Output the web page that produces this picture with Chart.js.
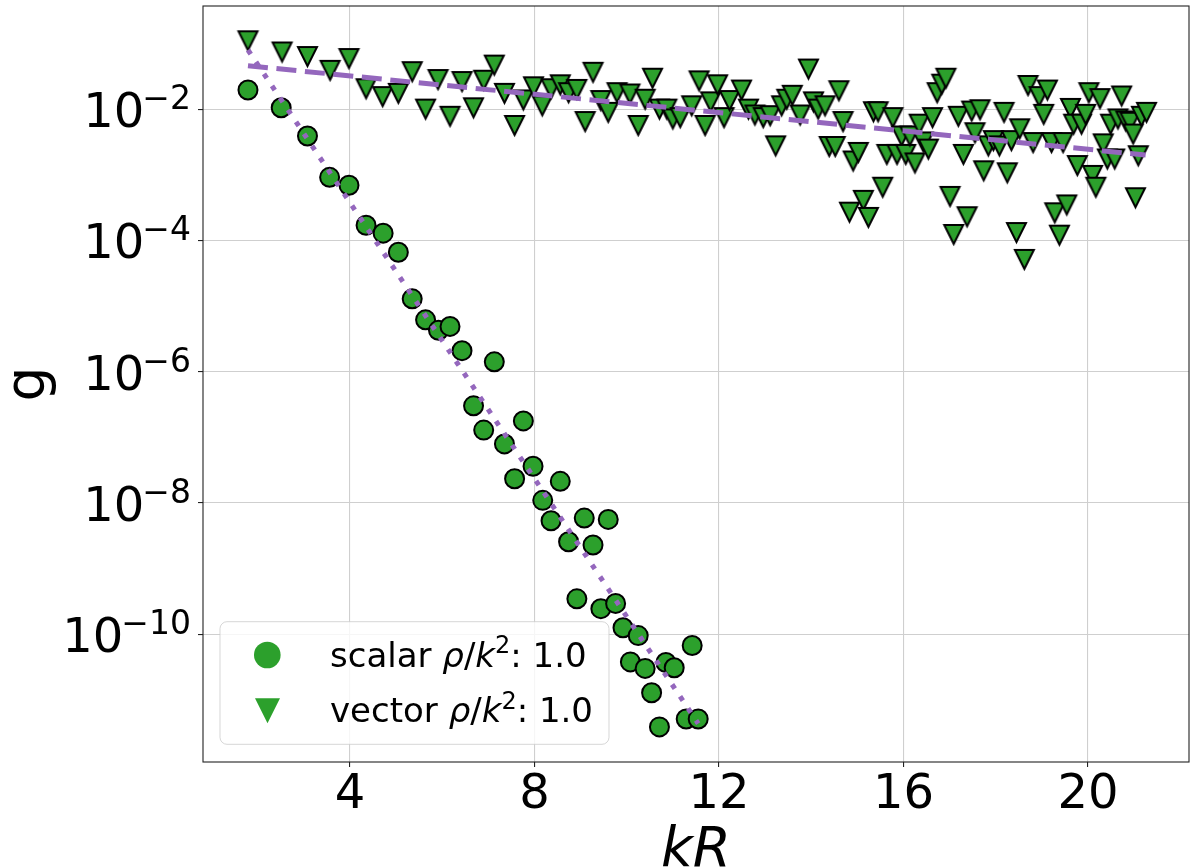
<!DOCTYPE html>
<html>
<head>
<meta charset="utf-8">
<script src="https://cdn.jsdelivr.net/npm/chart.js@4.4.1/dist/chart.umd.min.js"></script>
<style>
  html, body { margin: 0; padding: 0; background: #fff; }
  canvas { display: block; }
</style>
</head>
<body>
<canvas id="chart" width="1191" height="868"></canvas>
<script>
(() => {
  "use strict";

  // values; g values are kept as log10(g)
  const scalarKR = [1.79, 2.51, 3.08, 3.56, 3.98, 4.35, 4.72, 5.05, 5.35, 5.64, 5.92, 6.17, 6.43, 6.68,
    6.90, 7.13, 7.35, 7.57, 7.76, 7.97, 8.18, 8.36, 8.56, 8.74, 8.92, 9.08, 9.27, 9.44, 9.60, 9.76,
    9.92, 10.08, 10.25, 10.40, 10.54, 10.71, 10.85, 11.03, 11.29, 11.42, 11.55];
  const scalarLogG = [-1.71, -1.98, -2.41, -3.04, -3.16, -3.77, -3.89, -4.18, -4.89, -5.21, -5.37, -5.31, -5.68, -6.52,
    -6.89, -5.85, -7.10, -7.63, -6.75, -7.44, -7.96, -8.27, -7.67, -8.59, -9.46, -8.23, -8.64, -9.61, -8.25, -9.53,
    -9.90, -10.42, -10.02, -10.52, -10.89, -11.41, -10.43, -10.51, -11.29, -10.17, -11.29];

  const vectorKR = [1.79, 2.53, 3.08, 3.57, 3.98, 4.35, 4.71, 5.05, 5.35, 5.64, 5.91, 6.17, 6.43, 6.68,
    6.90, 7.13, 7.35, 7.57, 7.76, 7.98, 8.17, 8.36, 8.56, 8.74, 8.92, 9.10, 9.27,
    9.44, 9.60, 9.79, 10.07, 10.25, 10.40, 10.56, 10.71, 10.87, 11.00, 11.16, 11.41, 11.57, 11.70,
    11.82, 11.97, 12.11, 12.23, 12.49, 12.64, 12.78, 12.96, 13.11, 13.23, 13.36, 13.47, 13.59, 13.76,
    13.94, 14.05, 14.15, 14.30, 14.39, 14.52, 14.60, 14.69, 14.83, 14.91, 15.02, 15.13, 15.24, 15.35,
    15.45, 15.55, 15.64, 15.77, 15.86, 15.96, 16.05, 16.14, 16.25, 16.34, 16.43, 16.54, 16.63, 16.73,
    16.83, 16.92, 17.01, 17.09, 17.19, 17.30, 17.38, 17.48, 17.55, 17.66, 17.74, 17.84, 17.95, 18.08,
    18.18, 18.25, 18.34, 18.45, 18.52, 18.62, 18.70, 18.81, 18.94, 19.04, 19.12, 19.21, 19.28, 19.38,
    19.46, 19.54, 19.62, 19.69, 19.77, 19.86, 19.95, 20.02, 20.10, 20.17, 20.26, 20.33, 20.42, 20.49,
    20.58, 20.65, 20.73, 20.82, 20.91, 20.98, 21.03, 21.09, 21.16, 21.27];
  const vectorLogG = [-0.96, -1.13, -1.20, -1.41, -1.23, -1.69, -1.81, -1.76, -1.43, -2.00, -1.55, -2.11, -1.58, -1.98,
    -1.56, -1.33, -1.76, -2.25, -1.86, -1.66, -1.95, -1.69, -1.63, -1.75, -1.70, -2.19, -1.44,
    -1.87, -2.05, -1.75, -1.77, -2.25, -1.85, -1.53, -2.00, -2.00, -2.15, -2.13, -1.95, -1.57, -2.25,
    -1.89, -1.63, -2.13, -1.87, -1.71, -2.00, -2.09, -2.13, -2.10, -2.56, -1.95, -1.85, -1.79, -2.09,
    -1.39, -1.89, -2.00, -1.95, -2.57, -2.57, -1.72, -2.19, -3.57, -2.79, -2.66, -3.39, -3.65, -2.04,
    -2.04, -3.19, -2.69, -2.13, -2.69, -2.41, -2.69, -2.41, -2.82, -2.23, -2.50, -2.61, -2.13, -1.75,
    -1.62, -1.53, -3.33, -3.91, -2.11, -2.69, -3.64, -2.03, -2.36, -2.01, -2.94, -2.56, -2.48, -2.56,
    -2.05, -2.97, -2.48, -3.88, -2.30, -4.29, -1.64, -2.51, -1.81, -2.08, -1.71, -2.51, -3.58, -3.92,
    -2.51, -3.46, -1.99, -2.23, -2.86, -2.23, -2.08, -1.75, -3.01, -3.19, -1.84, -2.53, -2.76, -2.23,
    -2.76, -2.15, -1.80, -2.18, -2.20, -2.38, -3.35, -2.71, -2.11, -2.05];

  // fitted lines, endpoints
  const scalarFitKR = [1.79, 11.55];
  const scalarFitLogG = [-1.10, -11.36];
  const vectorFitKR = [1.79, 21.25];
  const vectorFitLogG = [-1.34, -2.70];

  const xTicks = [4, 8, 12, 16, 20];
  const yTickExponents = [-10, -8, -6, -4, -2];
  const xRange = [0.815, 22.19];
  const yLogRange = [-11.945, -0.43];

  const legendLabels = ["scalar", "vector"];
  const legendRho = "1.0";

  const GREEN = "#2ca02c";
  const PURPLE = "#9467bd";
  const FONT = "'DejaVu Sans', sans-serif";

  const toPoints = (xs, logs) => xs.map((x, i) => ({ x, y: Math.pow(10, logs[i]) }));

  function triangleDown(half, edge, fill, stroke) {
    const size = Math.ceil(2 * half + 2 * edge + 4);
    const c = document.createElement("canvas");
    c.width = size;
    c.height = size;
    const g = c.getContext("2d");
    const m = size / 2;
    g.beginPath();
    g.moveTo(m - half, m - half);
    g.lineTo(m + half, m - half);
    g.lineTo(m, m + half);
    g.closePath();
    g.fillStyle = fill;
    g.fill();
    if (edge) {
      g.lineWidth = edge;
      g.lineJoin = "miter";
      g.strokeStyle = stroke;
      g.stroke();
    }
    return c;
  }

  function drawRich(ctx, x, baseline, parts) {
    let cx = x;
    parts.forEach(([text, font, dy]) => {
      ctx.font = font;
      ctx.fillText(text, cx, baseline + (dy || 0));
      cx += ctx.measureText(text).width;
    });
  }

  const decorations = {
    id: "decorations",
    afterDraw(chart) {
      const { ctx, chartArea: a } = chart;
      const xs = chart.scales.x;
      const ys = chart.scales.y;
      ctx.save();

      // frame
      ctx.strokeStyle = "#222";
      ctx.lineWidth = 1.1;
      ctx.strokeRect(a.left, a.top, a.right - a.left, a.bottom - a.top);

      ctx.fillStyle = "#000";
      ctx.textBaseline = "alphabetic";

      // x tick labels
      ctx.font = `48px ${FONT}`;
      ctx.textAlign = "center";
      xTicks.forEach((v) => ctx.fillText(String(v), xs.getPixelForValue(v), a.bottom + 45.5));

      // y tick labels 10^n
      yTickExponents.forEach((e) => {
        const py = ys.getPixelForValue(Math.pow(10, e));
        const exp = "\u2212" + Math.abs(e);
        ctx.font = `33px ${FONT}`;
        ctx.textAlign = "right";
        const ew = ctx.measureText(exp).width;
        ctx.fillText(exp, 191, py);
        ctx.font = `48px ${FONT}`;
        ctx.fillText("10", 191 - ew + 2, py + 18);
      });

      // axis titles
      ctx.textAlign = "center";
      ctx.font = `oblique 55px ${FONT}`;
      ctx.fillText("kR", (a.left + a.right) / 2, 865.5);
      ctx.save();
      ctx.translate(43.5, (a.top + a.bottom) / 2);
      ctx.rotate(-Math.PI / 2);
      ctx.font = `55px ${FONT}`;
      ctx.fillText("g", 0, 0);
      ctx.restore();

      // legend
      const lx = 220, ly = 621.7, lw = 389, lh = 122.6, r = 7;
      ctx.beginPath();
      ctx.moveTo(lx + r, ly);
      ctx.lineTo(lx + lw - r, ly);
      ctx.arcTo(lx + lw, ly, lx + lw, ly + r, r);
      ctx.lineTo(lx + lw, ly + lh - r);
      ctx.arcTo(lx + lw, ly + lh, lx + lw - r, ly + lh, r);
      ctx.lineTo(lx + r, ly + lh);
      ctx.arcTo(lx, ly + lh, lx, ly + lh - r, r);
      ctx.lineTo(lx, ly + r);
      ctx.arcTo(lx, ly, lx + r, ly, r);
      ctx.closePath();
      ctx.fillStyle = "rgba(255,255,255,0.8)";
      ctx.fill();
      ctx.strokeStyle = "rgba(204,204,204,0.8)";
      ctx.lineWidth = 1;
      ctx.stroke();

      ctx.fillStyle = GREEN;
      ctx.beginPath();
      ctx.arc(267.3, 655, 13.3, 0, Math.PI * 2);
      ctx.fill();
      ctx.beginPath();
      ctx.moveTo(255, 698.3);
      ctx.lineTo(280, 698.3);
      ctx.lineTo(267.5, 723.3);
      ctx.closePath();
      ctx.fill();

      ctx.fillStyle = "#000";
      ctx.textAlign = "left";
      const reg = `34px ${FONT}`;
      const obl = `oblique 34px ${FONT}`;
      const sup = `24px ${FONT}`;
      [666.7, 722.3].forEach((base, i) => {
        drawRich(ctx, 330, base, [
          [legendLabels[i] + " ", reg],
          ["\u03c1", obl],
          ["/", reg],
          ["k", obl],
          ["2", sup, -13.4],
          [": " + legendRho, reg],
        ]);
      });

      ctx.restore();
    },
  };

  const gridOpts = {
    color: "#cfcfcf",
    lineWidth: 1.1,
    drawTicks: true,
    tickLength: 5,
    tickColor: "#222",
    tickWidth: 1.1,
  };

  new Chart(document.getElementById("chart"), {
    type: "scatter",
    data: {
      datasets: [
        {
          label: "scalar fit",
          data: toPoints(scalarFitKR, scalarFitLogG),
          showLine: true,
          borderColor: PURPLE,
          borderWidth: 5,
          borderDash: [5, 9.4],
          borderCapStyle: "butt",
          pointRadius: 0,
          order: 0,
        },
        {
          label: "vector fit",
          data: toPoints(vectorFitKR, vectorFitLogG),
          showLine: true,
          borderColor: PURPLE,
          borderWidth: 5,
          borderDash: [20, 8.6],
          borderCapStyle: "butt",
          pointRadius: 0,
          order: 0,
        },
        {
          label: "vector",
          data: toPoints(vectorKR, vectorLogG),
          pointStyle: triangleDown(9.5, 2, GREEN, "#000"),
          pointRadius: 10,
          order: 1,
        },
        {
          label: "scalar",
          data: toPoints(scalarKR, scalarLogG),
          pointStyle: "circle",
          pointRadius: 9.5,
          pointBorderWidth: 2,
          backgroundColor: GREEN,
          borderColor: "#000",
          order: 2,
        },
      ],
    },
    options: {
      responsive: false,
      animation: false,
      devicePixelRatio: 1,
      layout: { autoPadding: false, padding: { top: 6, right: 2, left: 0, bottom: 0 } },
      plugins: { legend: { display: false }, tooltip: { enabled: false } },
      scales: {
        x: {
          type: "linear",
          min: xRange[0],
          max: xRange[1],
          afterBuildTicks: (s) => { s.ticks = xTicks.map((v) => ({ value: v })); },
          ticks: { display: false },
          grid: gridOpts,
          border: { display: false },
          afterFit: (s) => {
            s.height = 106;
            s.paddingLeft = 0;
            s.paddingRight = 0;
          },
        },
        y: {
          type: "logarithmic",
          min: Math.pow(10, yLogRange[0]),
          max: Math.pow(10, yLogRange[1]),
          afterBuildTicks: (s) => { s.ticks = yTickExponents.map((e) => ({ value: Math.pow(10, e) })); },
          ticks: { display: false },
          grid: gridOpts,
          border: { display: false },
          afterFit: (s) => {
            s.width = 203;
            s.paddingTop = 0;
            s.paddingBottom = 0;
          },
        },
      },
    },
    plugins: [decorations],
  });
})();
</script>
</body>
</html>
